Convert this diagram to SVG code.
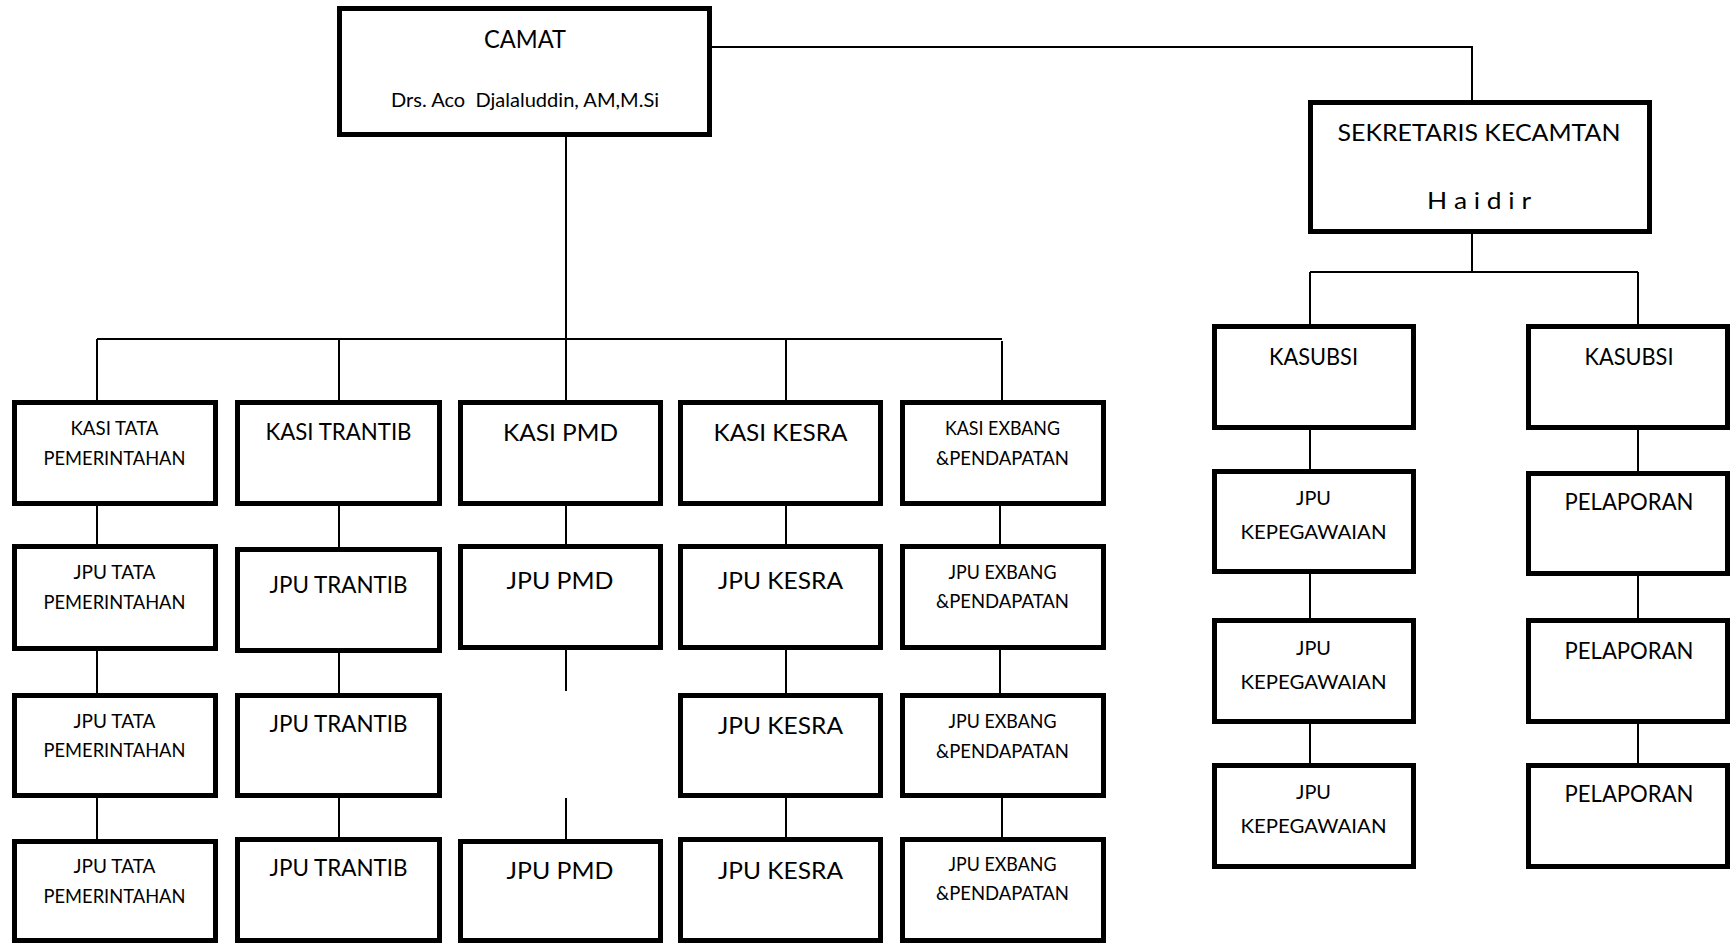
<svg xmlns="http://www.w3.org/2000/svg" width="1733" height="944" viewBox="0 0 1733 944">
<style>
.b{fill:#fff;stroke:#000;stroke-width:5}
.c{fill:none;stroke:#000;stroke-width:2}
text{font-family:Lato,"Open Sans","Liberation Sans",sans-serif;fill:#000;text-anchor:middle}
.s{font-size:18.6px}
.m{font-size:22.3px}
.l{font-size:24.7px}
.k{font-size:19.5px}
</style>
<rect width="1733" height="944" fill="#fff"/>
<g id="connectors">
<path class="c" d="M712 47H1472V100M566 137V400M97 339H1002M97 339V400M339 339V400M786 339V400M1002 341V400"/>
<path class="c" d="M97 506V544M97 651V693M97 798V839"/>
<path class="c" d="M339 506V547M339 653V693M339 798V837"/>
<path class="c" d="M566 506V544M566 650V691M566 798V839"/>
<path class="c" d="M786 506V544M786 650V693M786 798V837"/>
<path class="c" d="M1000 506V544M1000 650V693M1002 798V837"/>
<path class="c" d="M1472 234V272M1310 272H1638M1310 272V324M1638 272V324"/>
<path class="c" d="M1310 430V469M1310 574V618M1310 724V763"/>
<path class="c" d="M1638 430V471M1638 576V618M1638 724V763"/>
</g>
<g id="camat"><rect class="b" x="339.5" y="8.5" width="370" height="126"/><text class="l" x="525" y="48" textLength="82" lengthAdjust="spacingAndGlyphs">CAMAT</text><text class="s" x="525" y="107" textLength="268" lengthAdjust="spacingAndGlyphs" xml:space="preserve" style="white-space:pre">Drs. Aco  Djalaluddin, AM,M.Si</text></g>
<g id="sekretaris"><rect class="b" x="1310.5" y="102.5" width="339" height="129"/><text x="1479" y="141" font-size="23.3" textLength="283" lengthAdjust="spacingAndGlyphs">SEKRETARIS KECAMTAN</text><text x="1479" y="209" font-size="23.3" textLength="104" lengthAdjust="spacingAndGlyphs">H a i d i r</text></g>

<g id="kasi-tata"><rect class="b" x="14.5" y="402.5" width="201" height="101"/><text class="s" x="114.5" y="435" textLength="88" lengthAdjust="spacingAndGlyphs">KASI TATA</text><text class="s" x="114.5" y="465" textLength="142" lengthAdjust="spacingAndGlyphs">PEMERINTAHAN</text></g>
<g id="kasi-trantib"><rect class="b" x="237.5" y="402.5" width="202" height="101"/><text class="m" x="338.5" y="439.5" textLength="146" lengthAdjust="spacingAndGlyphs">KASI TRANTIB</text></g>
<g id="kasi-pmd"><rect class="b" x="460.5" y="402.5" width="200" height="101"/><text class="m" x="560.5" y="440.5" textLength="115" lengthAdjust="spacingAndGlyphs">KASI PMD</text></g>
<g id="kasi-kesra"><rect class="b" x="680.5" y="402.5" width="200" height="101"/><text class="m" x="780.5" y="440.5" textLength="134" lengthAdjust="spacingAndGlyphs">KASI KESRA</text></g>
<g id="kasi-exbang"><rect class="b" x="902.5" y="402.5" width="201" height="101"/><text class="s" x="1002.5" y="435" textLength="115" lengthAdjust="spacingAndGlyphs">KASI EXBANG</text><text class="s" x="1002.5" y="464.5" textLength="133" lengthAdjust="spacingAndGlyphs">&amp;PENDAPATAN</text></g>

<g id="jpu-tata-1"><rect class="b" x="14.5" y="546.5" width="201" height="102"/><text class="s" x="114.5" y="579" textLength="82" lengthAdjust="spacingAndGlyphs">JPU TATA</text><text class="s" x="114.5" y="608.5" textLength="142" lengthAdjust="spacingAndGlyphs">PEMERINTAHAN</text></g>
<g id="jpu-trantib-1"><rect class="b" x="237.5" y="549.5" width="202" height="101"/><text class="m" x="338.5" y="592.5" textLength="138" lengthAdjust="spacingAndGlyphs">JPU TRANTIB</text></g>
<g id="jpu-pmd-1"><rect class="b" x="460.5" y="546.5" width="200" height="101"/><text class="m" x="560" y="589" textLength="107" lengthAdjust="spacingAndGlyphs">JPU PMD</text></g>
<g id="jpu-kesra-1"><rect class="b" x="680.5" y="546.5" width="200" height="101"/><text class="m" x="780.5" y="589" textLength="125" lengthAdjust="spacingAndGlyphs">JPU KESRA</text></g>
<g id="jpu-exbang-1"><rect class="b" x="902.5" y="546.5" width="201" height="101"/><text class="s" x="1002.5" y="578.5" textLength="108" lengthAdjust="spacingAndGlyphs">JPU EXBANG</text><text class="s" x="1002.5" y="607.5" textLength="133" lengthAdjust="spacingAndGlyphs">&amp;PENDAPATAN</text></g>

<g id="jpu-tata-2"><rect class="b" x="14.5" y="695.5" width="201" height="100"/><text class="s" x="114.5" y="727.5" textLength="82" lengthAdjust="spacingAndGlyphs">JPU TATA</text><text class="s" x="114.5" y="756.5" textLength="142" lengthAdjust="spacingAndGlyphs">PEMERINTAHAN</text></g>
<g id="jpu-trantib-2"><rect class="b" x="237.5" y="695.5" width="202" height="100"/><text class="m" x="338.5" y="731.5" textLength="138" lengthAdjust="spacingAndGlyphs">JPU TRANTIB</text></g>
<g id="jpu-kesra-2"><rect class="b" x="680.5" y="695.5" width="200" height="100"/><text class="m" x="780.5" y="734" textLength="125" lengthAdjust="spacingAndGlyphs">JPU KESRA</text></g>
<g id="jpu-exbang-2"><rect class="b" x="902.5" y="695.5" width="201" height="100"/><text class="s" x="1002.5" y="727.5" textLength="108" lengthAdjust="spacingAndGlyphs">JPU EXBANG</text><text class="s" x="1002.5" y="757.5" textLength="133" lengthAdjust="spacingAndGlyphs">&amp;PENDAPATAN</text></g>

<g id="jpu-tata-3"><rect class="b" x="14.5" y="841.5" width="201" height="99"/><text class="s" x="114.5" y="872.5" textLength="82" lengthAdjust="spacingAndGlyphs">JPU TATA</text><text class="s" x="114.5" y="902.5" textLength="142" lengthAdjust="spacingAndGlyphs">PEMERINTAHAN</text></g>
<g id="jpu-trantib-3"><rect class="b" x="237.5" y="839.5" width="202" height="101"/><text class="m" x="338.5" y="876" textLength="138" lengthAdjust="spacingAndGlyphs">JPU TRANTIB</text></g>
<g id="jpu-pmd-3"><rect class="b" x="460.5" y="841.5" width="200" height="99"/><text class="m" x="560" y="879" textLength="107" lengthAdjust="spacingAndGlyphs">JPU PMD</text></g>
<g id="jpu-kesra-3"><rect class="b" x="680.5" y="839.5" width="200" height="101"/><text class="m" x="780.5" y="878.5" textLength="125" lengthAdjust="spacingAndGlyphs">JPU KESRA</text></g>
<g id="jpu-exbang-3"><rect class="b" x="902.5" y="839.5" width="201" height="101"/><text class="s" x="1002.5" y="871" textLength="108" lengthAdjust="spacingAndGlyphs">JPU EXBANG</text><text class="s" x="1002.5" y="900" textLength="133" lengthAdjust="spacingAndGlyphs">&amp;PENDAPATAN</text></g>

<g id="kasubsi-1"><rect class="b" x="1214.5" y="326.5" width="199" height="101"/><text class="m" x="1313.5" y="364.5" textLength="89" lengthAdjust="spacingAndGlyphs">KASUBSI</text></g>
<g id="kasubsi-2"><rect class="b" x="1528.5" y="326.5" width="199" height="101"/><text class="m" x="1629" y="364.5" textLength="89" lengthAdjust="spacingAndGlyphs">KASUBSI</text></g>
<g id="jpu-kep-1"><rect class="b" x="1214.5" y="471.5" width="199" height="100"/><text class="k" x="1313.5" y="505" textLength="35" lengthAdjust="spacingAndGlyphs">JPU</text><text class="k" x="1313.5" y="538.5" textLength="146" lengthAdjust="spacingAndGlyphs">KEPEGAWAIAN</text></g>
<g id="pelaporan-1"><rect class="b" x="1528.5" y="473.5" width="199" height="100"/><text class="m" x="1629" y="509.5" textLength="129" lengthAdjust="spacingAndGlyphs">PELAPORAN</text></g>
<g id="jpu-kep-2"><rect class="b" x="1214.5" y="620.5" width="199" height="101"/><text class="k" x="1313.5" y="655" textLength="35" lengthAdjust="spacingAndGlyphs">JPU</text><text class="k" x="1313.5" y="689" textLength="146" lengthAdjust="spacingAndGlyphs">KEPEGAWAIAN</text></g>
<g id="pelaporan-2"><rect class="b" x="1528.5" y="620.5" width="199" height="101"/><text class="m" x="1629" y="658.5" textLength="129" lengthAdjust="spacingAndGlyphs">PELAPORAN</text></g>
<g id="jpu-kep-3"><rect class="b" x="1214.5" y="765.5" width="199" height="101"/><text class="k" x="1313.5" y="799" textLength="35" lengthAdjust="spacingAndGlyphs">JPU</text><text class="k" x="1313.5" y="833" textLength="146" lengthAdjust="spacingAndGlyphs">KEPEGAWAIAN</text></g>
<g id="pelaporan-3"><rect class="b" x="1528.5" y="765.5" width="199" height="101"/><text class="m" x="1629" y="801.5" textLength="129" lengthAdjust="spacingAndGlyphs">PELAPORAN</text></g>
</svg>
